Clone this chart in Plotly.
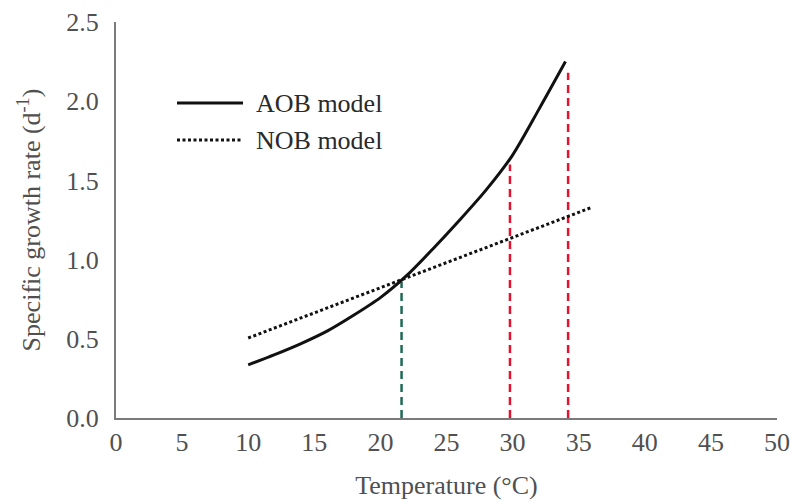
import plotly.graph_objects as go

# Data
aob_temp = [10, 12, 14, 16, 18, 20, 22, 24, 26, 28, 30, 32, 34]
aob_rate = [0.335, 0.40, 0.47, 0.55, 0.65, 0.76, 0.90, 1.07, 1.25, 1.44, 1.66, 1.95, 2.25]

nob_temp = [10, 36]
nob_rate = [0.505, 1.33]

green_temp = [21.6, 21.6]
green_rate = [0.0, 0.86]
red1_temp = [29.8, 29.8]
red1_rate = [0.0, 1.6]
red2_temp = [34.2, 34.2]
red2_rate = [0.0, 2.18]

x_ticks = list(range(0, 51, 5))
y_ticks = [0.0, 0.5, 1.0, 1.5, 2.0, 2.5]

FONT = "Liberation Serif"
GREEN = "#1e6b55"
RED = "#e3122f"
TXT = "#505050"

fig = go.Figure()
fig.add_trace(go.Scatter(x=green_temp, y=green_rate, mode="lines",
                         line=dict(color=GREEN, width=2.5, dash="8px,5px"), showlegend=False))
fig.add_trace(go.Scatter(x=red1_temp, y=red1_rate, mode="lines",
                         line=dict(color=RED, width=2.5, dash="8px,5px"), showlegend=False))
fig.add_trace(go.Scatter(x=red2_temp, y=red2_rate, mode="lines",
                         line=dict(color=RED, width=2.5, dash="8px,5px"), showlegend=False))
fig.add_trace(go.Scatter(x=nob_temp, y=nob_rate, mode="lines", name="NOB model",
                         line=dict(color="#111111", width=3, dash="3px,2.5px"), showlegend=False))
fig.add_trace(go.Scatter(x=aob_temp, y=aob_rate, mode="lines", name="AOB model",
                         line=dict(color="#111111", width=3, shape="spline", smoothing=0.8),
                         showlegend=False))

# Manual legend (line samples + labels), in paper coordinates
legend_items = [("AOB model", "solid", 103), ("NOB model", "3px,2.5px", 140)]
L, T, W, H = 116, 22, 661, 396
for label, dash, ypx in legend_items:
    yp = 1 - (ypx - T) / H
    fig.add_shape(type="line", xref="paper", yref="paper",
                  x0=(177 - L) / W, x1=(243 - L) / W, y0=yp, y1=yp,
                  line=dict(color="#111111", width=3, dash=dash))
    fig.add_annotation(xref="paper", yref="paper", x=(254 - L) / W, y=yp,
                       text=label, showarrow=False, xanchor="left", yanchor="middle",
                       font=dict(family=FONT, size=26, color="#2a2a2a"))

fig.update_layout(
    width=790, height=504,
    margin=dict(l=116, r=13, t=22, b=86),
    paper_bgcolor="white", plot_bgcolor="white",
    font=dict(family=FONT, size=26, color=TXT),
    xaxis=dict(range=[0, 50], tickvals=x_ticks, showgrid=False, zeroline=False,
               showline=True, linecolor="#7a7a7a", linewidth=2, ticks="",
               automargin=False,
               tickfont=dict(family=FONT, size=26, color=TXT),
               title=dict(text="Temperature (\u00b0C)", standoff=20,
                          font=dict(family=FONT, size=26, color=TXT))),
    yaxis=dict(range=[0, 2.5], tickvals=y_ticks, tickformat=".1f", showgrid=False,
               zeroline=False, showline=True, linecolor="#7a7a7a", linewidth=2, ticks="",
               ticklabelstandoff=10, automargin=False,
               tickfont=dict(family=FONT, size=26, color=TXT),
               title=dict(text="Specific growth rate (d<sup>-1</sup>)", standoff=18,
                          font=dict(family=FONT, size=26, color=TXT))),
)

fig.write_html("out.html")
